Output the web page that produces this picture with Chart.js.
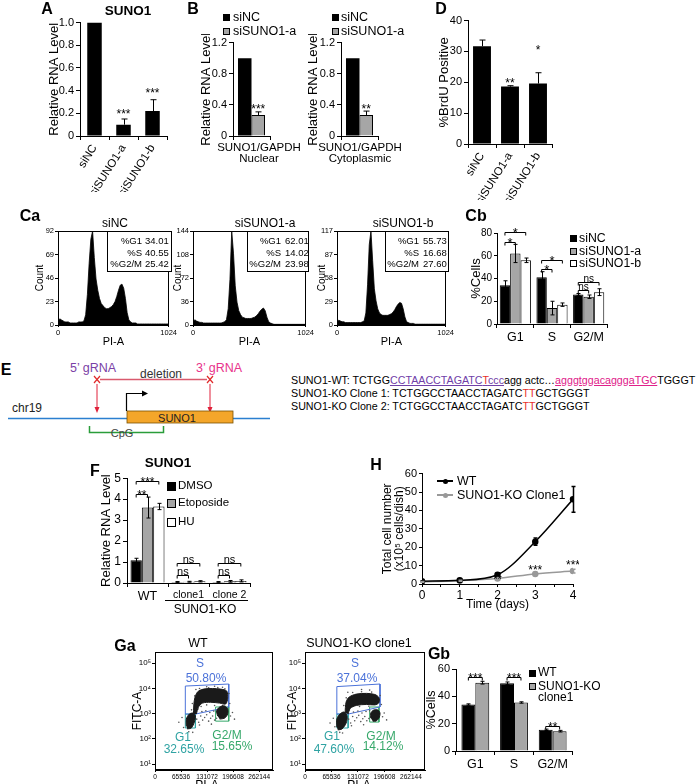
<!DOCTYPE html>
<html>
<head>
<meta charset="utf-8">
<script src="https://cdn.jsdelivr.net/npm/chart.js@4.4.0/dist/chart.umd.min.js"></script>
<style>
html, body { margin: 0; padding: 0; background: #fff; overflow: hidden; }
#fig { position: relative; width: 696px; height: 784px; overflow: hidden; font-family: 'Liberation Sans', Arial, sans-serif; color: #000; }
#fig canvas { position: absolute; }
.sq { display: inline-block; width: 5px; height: 5px; border: 1px solid #000; margin-right: 3px; vertical-align: 1px; }
.inset { position: absolute; border: 1px solid #000; background: #fff; box-sizing: border-box; }
.pu { color: #7040a8; text-decoration: underline; }
.mg { color: #e0208a; text-decoration: underline; }
.rd { color: #e8302a; }
</style>
</head>
<body>
<div id="fig">
<svg width="696" height="784" style="position:absolute;left:0;top:0" font-family="Liberation Sans, Arial, sans-serif">
  <text x="93" y="372" text-anchor="middle" font-size="12.5" fill="#7b3fa6">5’ gRNA</text>
  <text x="219" y="372" text-anchor="middle" font-size="12.5" fill="#e8338b">3’ gRNA</text>
  <line x1="100" y1="379.5" x2="207" y2="379.5" stroke="#d95a6e" stroke-width="1.5"/>
  <text x="161" y="378" text-anchor="middle" font-size="12" fill="#333">deletion</text>
  <path d="M94,376 L100,383 M100,376 L94,383" stroke="#e02a2a" stroke-width="1.2"/>
  <path d="M207,376 L213,383 M213,376 L207,383" stroke="#e02a2a" stroke-width="1.2"/>
  <line x1="97" y1="384" x2="97" y2="408" stroke="#e0213a" stroke-width="1"/>
  <path d="M94.5,407 L97,413 L99.5,407 z" fill="#e0213a"/>
  <line x1="210" y1="384" x2="210" y2="408" stroke="#e0213a" stroke-width="1"/>
  <path d="M207.5,407 L210,413 L212.5,407 z" fill="#e0213a"/>
  <text x="12" y="412" font-size="12" fill="#222">chr19</text>
  <line x1="8" y1="418.5" x2="270" y2="418.5" stroke="#2b7fd0" stroke-width="1.5"/>
  <rect x="127" y="411" width="106" height="12" fill="#f4a62a" stroke="#7a5200" stroke-width="0.8"/>
  <text x="177" y="421.5" text-anchor="middle" font-size="11" fill="#222">SUNO1</text>
  <path d="M126.5,411 L126.5,393.5 L143,393.5" stroke="#000" fill="none" stroke-width="1.2"/>
  <path d="M142,390.5 L148,393.5 L142,396.5 z" fill="#000"/>
  <path d="M89.5,426 L89.5,432.5 L163.5,432.5 L163.5,426" stroke="#2a9d3a" fill="none" stroke-width="1.5"/>
  <text x="122" y="437" text-anchor="middle" font-size="11" fill="#444">CpG</text>
</svg>
<div style="position:absolute;left:291px;top:374px;font-size:10.7px;line-height:13px;white-space:nowrap">
SUNO1-WT: TCTGG<span class="pu">CCTAACCTAGATC<span class="rd">T</span>ccc</span>agg actc…<span class="mg">agggtggacagggaTGC</span>TGGGT<br>
SUNO1-KO Clone 1: TCTGGCCTAACCTAGATC<span class="rd">TT</span>GCTGGGT<br>
SUNO1-KO Clone 2: TCTGGCCTAACCTAGATC<span class="rd">TT</span>GCTGGGT
</div>
</div>
<script>
// ---------- data ----------
const aCats = ['siNC', 'siSUNO1-a', 'siSUNO1-b'];
const aLevel = [1.0, 0.10, 0.22];
const aErr = [0, 0.05, 0.10];

const bSeries = ['siNC', 'siSUNO1-a'];
const bNuclear = [1.0, 0.27];
const bNuclearErr = [0, 0.04];
const bCyto = [1.0, 0.27];
const bCytoErr = [0, 0.05];

const dBrdU = [31.7, 18.6, 19.6];
const dErr = [2.0, 0.3, 3.5];

const histBins = [0,16,32,48,64,80,96,112,128,144,160,176,192,208,224,240,256,272,288,304,320,336,352,368,384,400,416,432,448,464,480,496,512,528,544,560,576,592,608,624,640,656,672,688,704,720,736,752,768,784,800,816,832,848,864,880,896,912,928,944,960,976,992,1008,1024];
const histNC = [3,6,5,4,3,3,3,2,2,2, 2,2,3,3,3,4,10,30,60,84, 92,66,45,34,26,21,19,17,16,16, 17,18,20,23,28,34,39,40,36,26, 12,5,3,2,2,2, 1,1,1,1,1,1,1,1,1,1,1,1,1,1,1,1,1,1,1];
const histA = [3,8,6,5,4,4,3,3,3,3, 3,3,3,3,3,3,3,4,5,8, 25,70,144,110,60,35,22,16,12,11, 10,10,10,10,11,12,14,17,21,24, 26,22,12,5,3,2, 1,1,1,1,1,1,1,1,1,1,1,1,1,1,1,1,1,1,1];
const histB = [3,6,5,4,4,3,3,3,3,3, 3,3,3,3,3,4,5,15,50,100, 117,80,45,30,20,15,13,12,12,12, 12,13,14,16,19,23,26,28,27,20, 10,4,3,2,2,2, 1,1,1,1,1,1,1,1,1,1,1,1,1,1,1,1,1,1,1];
const caStatNames = ['%G1', '%S', '%G2/M'];
const caStatsNC = ['34.01', '40.55', '25.42'];
const caStatsA = ['62.01', '14.02', '23.98'];
const caStatsB = ['55.73', '16.68', '27.60'];

const cbPhases = ['G1', 'S', 'G2/M'];
const cbNC = [34, 41, 26];
const cbA = [62, 14, 24];
const cbB = [56, 17, 28];
const cbNCErr = [4, 5, 0.8];
const cbAErr = [8, 6, 1.5];
const cbBErr = [2, 1.5, 3];

const fGroups = ['WT', 'clone1', 'clone 2'];
const fDMSO = [1.08, 0.05, 0.05];
const fEto = [3.6, 0.06, 0.08];
const fHU = [3.65, 0.08, 0.10];
const fDMSOErr = [0.1, 0.02, 0.02];
const fEtoErr = [0.5, 0.02, 0.04];
const fHUErr = [0.15, 0.03, 0.05];

const hDays = [0, 1, 2, 3, 4];
const hWT = [1.5, 2.0, 5.0, 23.0, 46.0];
const hWTErr = [0.3, 0.4, 1.0, 2.0, 7.0];
const hKO = [1.2, 1.8, 3.0, 5.5, 7.0];
const hKOErr = [0.2, 0.3, 0.5, 0.8, 1.0];

// flow plots: [PI-A, FITC-A]
const gaXTicks = [0, 65536, 131072, 196608, 262144];
const wtG1Cloud = [[78800,320],[78800,605],[86400,955],[96600,1045],[101700,795],[99100,460],[91500,268],[81300,245]];
const wtSCloud = [[96600,955],[99100,3430],[106800,7100],[122000,9300],[144900,9800],[165200,9300],[180500,7800],[183000,4100],[177900,2400],[162700,2600],[139800,2800],[119500,2600],[109300,1800],[104200,955]];
const wtG2Cloud = [[157600,795],[155100,1260],[162700,1820],[175400,2000],[183000,1510],[183000,955],[175400,660],[162700,605]];
const wtDots = [[60000,450],[68000,700],[72000,280],[105000,600],[110000,450],[115000,800],[120000,550],[125000,700],[130000,900],[135000,500],[140000,650],[145000,800],[150000,550],[155000,650],[118000,1200],[128000,1300],[138000,1100],[148000,1250],[158000,1400],[108000,1500],[190000,800],[195000,1100],[188000,2500],[100000,5000],[103000,9000],[150000,12000],[130000,11500],[170000,11000],[112000,350],[142000,380],[200000,600],[95000,180],[85000,190],[112000,9800],[135000,10600],[158000,10800],[176000,9600],[186000,6200],[130000,2200],[150000,2100],[170000,2100],[116000,1900],[94000,2500],[92000,1400]];
const wtSGate = [[76300,12300],[185600,14800],[185600,1820],[101700,955],[76300,955],[76300,12300]];
const wtG1Gate = [[76300,955],[101700,955],[101700,268],[76300,268],[76300,955]];
const wtG2Gate = [[152500,1820],[185600,1820],[185600,500],[152500,500],[152500,1820]];

const koG1Cloud = [[78800,295],[78800,605],[86400,955],[96600,1150],[104200,795],[101700,415],[91500,245],[81300,225]];
const koSCloud = [[99100,1045],[101700,2850],[109300,4500],[127100,5900],[152500,6300],[172900,5700],[183000,4300],[183000,2700],[172900,2200],[152500,2300],[127100,2100],[111800,1600],[106800,955]];
const koG2Cloud = [[162700,660],[162700,1045],[170300,1380],[180500,1380],[185600,1045],[183000,660],[175400,500],[167800,500]];
const koDots = [[62000,420],[70000,650],[74000,300],[108000,600],[113000,420],[118000,760],[123000,520],[128000,680],[133000,850],[138000,480],[143000,620],[148000,760],[153000,520],[158000,640],[120000,1150],[131000,1250],[141000,1050],[151000,1200],[160000,1300],[110000,1400],[192000,750],[196000,1050],[189000,2300],[102000,4200],[106000,7000],[140000,9000],[160000,8500],[115000,330],[145000,360],[202000,560],[93000,170],[86000,180],[118000,6800],[140000,7300],[165000,7100],[186000,5200],[135000,1900],[158000,1950],[96000,2100]];
const koSGate = [[78800,11700],[185600,14800],[185600,1820],[106800,955],[78800,955],[78800,11700]];
const koG1Gate = [[78800,955],[106800,955],[106800,268],[78800,268],[78800,955]];
const koG2Gate = [[160000,1820],[183000,1820],[183000,460],[160000,460],[160000,1820]];

const gbPhases = ['G1', 'S', 'G2/M'];
const gbWT = [34, 49.5, 15.5];
const gbKO = [50, 35.5, 14.5];
const gbWTErr = [0.5, 1.0, 0.5];
const gbKOErr = [1.0, 0.5, 0.6];

// ---------- helpers ----------
const GRAY = '#a6a6a6';
const FAM = "'Liberation Sans', Arial, sans-serif";
Chart.defaults.font.family = FAM;
Chart.defaults.color = '#000';
const fig = document.getElementById('fig');

function label(html, x, y, size, opt) {
    opt = opt || {};
    const d = document.createElement('div');
    d.innerHTML = html;
    const tx = opt.anchor === 'l' ? '0' : opt.anchor === 'r' ? '-100%' : '-50%';
    d.style.cssText = 'position:absolute;white-space:nowrap;line-height:1;left:' + x + 'px;top:' + y + 'px;font-size:' + size + 'px;' +
        'font-weight:' + (opt.bold ? 'bold' : 'normal') + ';color:' + (opt.color || '#000') + ';transform:translate(' + tx + ',-50%);';
    fig.appendChild(d);
}

function box(x, y, w, h, cls, style) {
    const d = document.createElement('div');
    d.className = cls || '';
    d.style.cssText += 'position:absolute;left:' + x + 'px;top:' + y + 'px;width:' + w + 'px;height:' + h + 'px;' + (style || '');
    fig.appendChild(d);
}

const annot = {
    id: 'annot',
    afterDatasetsDraw(chart, args, o) {
        o = o || {};
        const ctx = chart.ctx;
        const ys = chart.scales.y;
        const size = o.size || 12;
        ctx.save();
        (o.errors || []).forEach((errs, di) => {
            if (!errs) return;
            const meta = chart.getDatasetMeta(di);
            const raw = chart.data.datasets[di].data;
            ctx.strokeStyle = o.errColor ? o.errColor[di] : '#000';
            ctx.lineWidth = o.errWidth || 1;
            meta.data.forEach((el, i) => {
                const e = errs[i];
                if (!e) return;
                const v = typeof raw[i] === 'object' ? raw[i].y : raw[i];
                const x = Math.round(el.x) + 0.5;
                const y1 = ys.getPixelForValue(v + e);
                const y2 = ys.getPixelForValue(o.upOnly ? v : v - e);
                const c = o.cap || 3;
                ctx.beginPath();
                ctx.moveTo(x, y1); ctx.lineTo(x, y2);
                ctx.moveTo(x - c, y1); ctx.lineTo(x + c, y1);
                if (!o.upOnly) { ctx.moveTo(x - c, y2); ctx.lineTo(x + c, y2); }
                ctx.stroke();
            });
        });
        ctx.strokeStyle = '#000';
        ctx.fillStyle = '#000';
        ctx.lineWidth = 1;
        ctx.textAlign = 'center';
        const px = ref => chart.getDatasetMeta(ref[1]).data[ref[0]].x;
        (o.brackets || []).forEach(b => {
            const x1 = px(b.a), x2 = px(b.b);
            const y = Math.round(ys.getPixelForValue(b.y)) + 0.5;
            const d = b.drop || 3;
            ctx.beginPath();
            ctx.moveTo(x1, y + d); ctx.lineTo(x1, y); ctx.lineTo(x2, y); ctx.lineTo(x2, y + d);
            ctx.stroke();
            const s = b.size || size;
            ctx.font = s + 'px ' + FAM;
            ctx.textBaseline = 'alphabetic';
            const star = b.text.indexOf('*') >= 0;
            ctx.fillText(b.text, (x1 + x2) / 2, y - 1 + (star ? 0.42 * s : 0));
        });
        (o.marks || []).forEach(m => {
            const x = m.ref ? px(m.ref) : chart.scales.x.getPixelForValue(m.x);
            const s = m.size || size;
            ctx.font = s + 'px ' + FAM;
            ctx.textBaseline = 'middle';
            ctx.fillStyle = m.color || '#000';
            const star = m.text.indexOf('*') >= 0;
            ctx.fillText(m.text, x, ys.getPixelForValue(m.y) + (star ? 0.23 * s : 0));
        });
        ctx.restore();
    }
};

const frame = {
    id: 'frame',
    afterDraw(chart, args, o) {
        if (!o || !o.on) return;
        const a = chart.chartArea;
        const ctx = chart.ctx;
        ctx.save();
        ctx.strokeStyle = '#000';
        ctx.lineWidth = 1;
        ctx.strokeRect(Math.round(a.left) + 0.5, Math.round(a.top) + 0.5, Math.round(a.right - a.left) - 1, Math.round(a.bottom - a.top) - 1);
        ctx.restore();
    }
};

// area = [left, top, right, bottom] of the plot area on the page
// ext = [y axis width, top pad, right pad, x axis height]
function draw(area, ext, cfg) {
    const c = document.createElement('canvas');
    c.width = area[2] - area[0] + ext[0] + ext[2];
    c.height = area[3] - area[1] + ext[1] + ext[3];
    c.style.left = (area[0] - ext[0]) + 'px';
    c.style.top = (area[1] - ext[1]) + 'px';
    fig.appendChild(c);
    const o = cfg.options;
    o.responsive = false;
    o.animation = false;
    o.devicePixelRatio = 1;
    o.layout = {padding: {left: 0, top: ext[1], right: ext[2], bottom: 0}};
    o.scales.x.afterFit = s => { s.height = ext[3]; };
    o.scales.y.afterFit = s => { s.width = ext[0]; };
    o.plugins = Object.assign({legend: {display: false}, tooltip: {enabled: false}}, o.plugins || {});
    cfg.plugins = [annot, frame];
    return new Chart(c, cfg);
}

const axisGrid = (tl) => ({display: true, drawOnChartArea: false, drawTicks: true, tickLength: tl || 4, color: '#000', lineWidth: 1});

function barPanel(area, ext, cats, sets, o) {
    return draw(area, ext, {
        type: 'bar',
        data: {labels: cats, datasets: sets},
        options: {
            scales: {
                x: {
                    grid: Object.assign(axisGrid(4), {offset: true}),
                    border: {color: '#000'},
                    ticks: Object.assign({font: {size: o.xSize || 12}, padding: 2, autoSkip: false,
                        maxRotation: o.rot || 0, minRotation: o.rot || 0}, o.xTicks || {})
                },
                y: {
                    min: o.min, max: o.max,
                    grid: axisGrid(o.ytl || 4),
                    border: {color: '#000'},
                    ticks: {stepSize: o.step, font: {size: o.ySize || 11}, padding: 2,
                        callback: o.fmt || (v => String(+v.toFixed(2)))},
                    title: {display: !!o.title, text: o.title, font: {size: o.titleSize || 13}, padding: 0}
                }
            },
            plugins: {annot: o.annot || {}}
        }
    });
}

function histPanel(area, ext, counts, yMax, yStep) {
    return draw(area, ext, {
        type: 'line',
        data: {datasets: [{
            data: histBins.map((b, i) => ({x: b, y: counts[i]})),
            fill: 'origin', backgroundColor: '#000', borderColor: '#000', borderWidth: 0.8, pointRadius: 0, tension: 0
        }]},
        options: {
            scales: {
                x: {type: 'linear', min: 0, max: 1024, grid: axisGrid(2), border: {color: '#000'},
                    ticks: {stepSize: 1024, font: {size: 7.5}, padding: 1, callback: v => String(v)},
                    title: {display: true, text: 'PI-A', font: {size: 11}, padding: 0}},
                y: {min: 0, max: yMax, grid: axisGrid(3), border: {color: '#000'},
                    ticks: {stepSize: yStep, font: {size: 7.5}, padding: 1, callback: v => String(Math.floor(v + 1e-6))},
                    title: {display: true, text: 'Count', font: {size: 10}, padding: 0}}
            },
            plugins: {frame: {on: true}}
        }
    });
}

const pts = arr => arr.map(p => ({x: p[0], y: p[1]}));
const SUP = {10: '10¹', 100: '10²', 1000: '10³', 10000: '10⁴', 100000: '10⁵'};

function flowPanel(area, ext, clouds, dots, gates) {
    const sets = [];
    clouds.forEach(s => sets.push({data: pts(s), fill: 'shape', backgroundColor: '#1a1a1a', borderColor: '#1a1a1a',
        borderWidth: 1, pointRadius: 0, tension: 0.3}));
    sets.push({data: pts(dots), showLine: false, pointRadius: 0.8, pointBackgroundColor: '#555', pointBorderWidth: 0});
    gates.forEach(g => sets.push({data: pts(g[0]), fill: false, borderColor: g[1], borderWidth: 1, pointRadius: 0, tension: 0}));
    return draw(area, ext, {
        type: 'line',
        data: {datasets: sets},
        options: {
            scales: {
                x: {type: 'linear', min: 0, max: 297000, grid: axisGrid(2), border: {color: '#000'},
                    afterBuildTicks: s => { s.ticks = gaXTicks.map(v => ({value: v})); },
                    ticks: {font: {size: 6.5}, padding: 1, callback: v => String(v)}},
                y: {type: 'logarithmic', min: 5.8, max: 275000, grid: axisGrid(3), border: {color: '#000'},
                    afterBuildTicks: s => { s.ticks = [10, 100, 1000, 10000, 100000].map(v => ({value: v})); },
                    ticks: {font: {size: 8}, padding: 1, callback: v => SUP[v] || ''},
                    title: {display: true, text: 'FITC-A', font: {size: 12}, padding: 0}}
            },
            plugins: {frame: {on: true}}
        }
    });
}

// ---------- A ----------
barPanel([80, 22, 167, 136], [33, 8, 4, 56], aCats,
    [{data: aLevel, backgroundColor: '#000', barPercentage: 0.5, categoryPercentage: 1}],
    {min: 0, max: 1, step: 0.2, fmt: v => v === 0 ? '0' : v.toFixed(1), title: 'Relative RNA Level', rot: 58, xSize: 11.5,
     annot: {errors: [aErr], upOnly: true, cap: 3, marks: [{ref: [1, 0], y: 0.21, text: '***'}, {ref: [2, 0], y: 0.40, text: '***'}]}});
label('A', 47, 9, 16, {bold: true});
label('SUNO1', 128, 11, 13.5, {bold: true});

// ---------- B ----------
function bSets(vals) {
    return bSeries.map((s, i) => ({data: [vals[i]], backgroundColor: i === 0 ? '#000' : GRAY, borderColor: '#000',
        borderWidth: i === 0 ? 0 : 1, barPercentage: 1, categoryPercentage: 0.73}));
}
barPanel([233, 42, 270, 136], [34, 8, 3, 10], ['Nuclear'], bSets(bNuclear),
    {min: 0, max: 1.2, step: 0.2, title: 'Relative RNA Level', xTicks: {display: false},
     annot: {errors: [null, [bNuclearErr[1]]], upOnly: true, cap: 3, marks: [{ref: [0, 1], y: 0.37, text: '***'}]}});
barPanel([341, 42, 378, 136], [35, 8, 3, 10], ['Cytoplasmic'], bSets(bCyto),
    {min: 0, max: 1.2, step: 0.2, title: 'Relative RNA Level', xTicks: {display: false},
     annot: {errors: [null, [bCytoErr[1]]], upOnly: true, cap: 3, marks: [{ref: [0, 1], y: 0.37, text: '**'}]}});
label('B', 193, 9, 16, {bold: true});
[[223, 233], [332, 341]].forEach(p => {
    box(p[0], 14, 5, 5, 'sq', 'background:#000;');
    label(bSeries[0], p[1], 17, 12.5, {anchor: 'l'});
    box(p[0], 28, 5, 5, 'sq', 'background:' + GRAY + ';');
    label(bSeries[1], p[1], 31, 12.5, {anchor: 'l'});
});
label('SUNO1/GAPDH', 259, 148, 11.5);
label('Nuclear', 259, 159, 11.5);
label('SUNO1/GAPDH', 360, 148, 11.5);
label('Cytoplasmic', 360, 159, 11.5);

// ---------- D ----------
barPanel([468, 20, 552, 144], [31, 8, 4, 56], aCats,
    [{data: dBrdU, backgroundColor: '#000', barPercentage: 0.64, categoryPercentage: 1}],
    {min: 0, max: 40, step: 10, title: '%BrdU Positive', rot: 58, xSize: 11.5,
     annot: {errors: [dErr], upOnly: true, cap: 3, marks: [{ref: [1, 0], y: 20.6, text: '**'}, {ref: [2, 0], y: 31, text: '*'}]}});
label('D', 441, 9, 16, {bold: true});

// ---------- Ca ----------
histPanel([58, 231, 172, 325], [24, 8, 6, 24], histNC, 92, 23);
histPanel([193, 231, 309, 325], [21, 8, 6, 24], histA, 144, 36);
histPanel([337, 231, 449, 325], [21, 8, 6, 24], histB, 117, 29.25);
label('Ca', 30, 216, 16, {bold: true});
label('siNC', 115, 223, 12);
label('siSUNO1-a', 265, 223, 12);
label('siSUNO1-b', 403, 223, 12);
[[107, 172, 142, 145, caStatsNC], [247, 309, 281, 285, caStatsA], [385, 449, 419, 423, caStatsB]].forEach(p => {
    box(p[0], 231, p[1] - p[0], 41, 'inset');
    caStatNames.forEach((n, i) => {
        label(n, p[2], 241 + i * 11.5, 9.5, {anchor: 'r'});
        label(p[4][i], p[3], 241 + i * 11.5, 9.5, {anchor: 'l'});
    });
});

// ---------- Cb ----------
barPanel([497, 233, 607, 324], [28, 14, 4, 22], cbPhases,
    [[cbNC, '#000'], [cbA, GRAY], [cbB, '#fff']].map(p => ({data: p[0], backgroundColor: p[1], borderColor: '#000',
        borderWidth: 1, barPercentage: 1, categoryPercentage: 0.85})),
    {min: 0, max: 80, step: 10, ySize: 10, ytl: 3, title: '%Cells', xSize: 12.5,
     annot: {errors: [cbNCErr, cbAErr, cbBErr], cap: 2, size: 13, brackets: [
        {a: [0, 0], b: [0, 1], y: 72, text: '*'}, {a: [0, 0], b: [0, 2], y: 81, text: '*'},
        {a: [1, 0], b: [1, 1], y: 48, text: '*'}, {a: [1, 0], b: [1, 2], y: 56, text: '*'},
        {a: [2, 0], b: [2, 1], y: 30, text: 'ns', size: 10}, {a: [2, 0], b: [2, 2], y: 37, text: 'ns', size: 10}]}});
label('Cb', 476, 216, 16, {bold: true});
[['#000', 238], [GRAY, 251], ['#fff', 263]].forEach((p, i) => {
    box(570, p[1] - 3, 5, 5, 'sq', 'background:' + p[0] + ';');
    label(['siNC', 'siSUNO1-a', 'siSUNO1-b'][i], 579, p[1], 12.3, {anchor: 'l'});
});

// ---------- E ----------
label('E', 6, 370, 16, {bold: true});

// ---------- F ----------
barPanel([127, 477, 250, 583], [28, 8, 4, 20], fGroups,
    [[fDMSO, '#000'], [fEto, GRAY], [fHU, '#fff']].map(p => ({data: p[0], backgroundColor: p[1], borderColor: '#000',
        borderWidth: 1, barPercentage: 1, categoryPercentage: 0.83})),
    {min: 0, max: 5, step: 1, ySize: 12, title: 'Relative RNA Level',
     xTicks: {font: c => ({size: c.index === 0 ? 12.5 : 10.5})},
     annot: {errors: [fDMSOErr, fEtoErr, fHUErr], cap: 2, size: 12, brackets: [
        {a: [0, 0], b: [0, 2], y: 4.85, text: '***'}, {a: [0, 0], b: [0, 1], y: 4.25, text: '**'},
        {a: [1, 0], b: [1, 2], y: 0.94, text: 'ns', size: 11}, {a: [1, 0], b: [1, 1], y: 0.38, text: 'ns', size: 11},
        {a: [2, 0], b: [2, 2], y: 0.94, text: 'ns', size: 11}, {a: [2, 0], b: [2, 1], y: 0.38, text: 'ns', size: 11}]}});
label('F', 95, 471, 16, {bold: true});
label('SUNO1', 168, 463, 13.5, {bold: true});
[['#000', 486, 'DMSO'], [GRAY, 503, 'Etoposide'], ['#fff', 522, 'HU']].forEach(p => {
    box(167, p[1] - 4, 7, 7, 'sq', 'background:' + p[0] + ';');
    label(p[2], 178, p[1], 11.5, {anchor: 'l'});
});
box(165, 600, 83, 1, '', 'background:#000;');
label('SUNO1-KO', 205, 609, 12);

// ---------- H ----------
draw([422, 473, 573, 584], [40, 8, 6, 28], {
    type: 'line',
    data: {datasets: [
        {data: hDays.map((d, i) => ({x: d, y: hWT[i]})), borderColor: '#000', backgroundColor: '#000', pointRadius: 2.5,
         borderWidth: 1.5, cubicInterpolationMode: 'monotone'},
        {data: hDays.map((d, i) => ({x: d, y: hKO[i]})), borderColor: '#999', backgroundColor: '#999', pointRadius: 2.5,
         borderWidth: 1.5, cubicInterpolationMode: 'monotone'}
    ]},
    options: {
        scales: {
            x: {type: 'linear', min: 0, max: 4, grid: axisGrid(3), border: {color: '#000'},
                ticks: {stepSize: 0.5, font: {size: 12}, padding: 1, callback: v => Number.isInteger(v) ? String(v) : ''},
                title: {display: true, text: 'Time (days)', font: {size: 12}, padding: 0}},
            y: {min: 0, max: 60, grid: axisGrid(3), border: {color: '#000'},
                ticks: {stepSize: 10, font: {size: 11}, padding: 2},
                title: {display: true, text: ['Total cell number', '(x10⁵ cells/dish)'], font: {size: 12, lineHeight: 1}, padding: 0}}
        },
        plugins: {annot: {errors: [hWTErr, hKOErr], errColor: ['#000', '#999'], errWidth: 1.5, cap: 2, size: 12,
            marks: [{x: 2, y: 3.8, text: '**', size: 11}, {x: 3, y: 8.6, text: '***'}, {x: 4, y: 11.3, text: '***'}]}}
    }
});
label('H', 376, 465, 16, {bold: true});
[['#000', 481, 'WT'], ['#999', 495, 'SUNO1-KO Clone1']].forEach(p => {
    box(437, p[1] - 0.75, 16, 1.5, '', 'background:' + p[0] + ';');
    box(442.5, p[1] - 2.5, 5, 5, '', 'background:' + p[0] + ';border-radius:50%;');
    label(p[2], 457, p[1], 12.5, {anchor: 'l'});
});

// ---------- Ga ----------
const SBLUE = '#4b72d9', G1TEAL = '#2fa3a3', G2GREEN = '#36a86a';
flowPanel([155, 652, 273, 770], [25, 8, 6, 22], [wtSCloud, wtG1Cloud, wtG2Cloud], wtDots,
    [[wtSGate, SBLUE], [wtG1Gate, G1TEAL], [wtG2Gate, G2GREEN]]);
flowPanel([305, 652, 425, 770], [20, 8, 6, 22], [koSCloud, koG1Cloud, koG2Cloud], koDots,
    [[koSGate, SBLUE], [koG1Gate, G1TEAL], [koG2Gate, G2GREEN]]);
label('Ga', 125, 646, 16, {bold: true});
label('WT', 198, 643, 12.5);
label('SUNO1-KO clone1', 359, 643, 12.5);
label('S', 200, 663, 12, {color: SBLUE});
label('50.80%', 206, 678, 12, {color: SBLUE});
label('G1', 183, 737, 12, {color: G1TEAL});
label('32.65%', 184, 749, 12, {color: G1TEAL});
label('G2/M', 227, 735, 12, {color: G2GREEN});
label('15.65%', 232, 746, 12, {color: G2GREEN});
label('S', 355, 663, 12, {color: SBLUE});
label('37.04%', 357, 678, 12, {color: SBLUE});
label('G1', 332, 736, 12, {color: G1TEAL});
label('47.60%', 334, 749, 12, {color: G1TEAL});
label('G2/M', 381, 736, 12, {color: G2GREEN});
label('14.12%', 383, 746, 12, {color: G2GREEN});
label('PI-A', 207, 785, 12);
label('PI-A', 359, 785, 12);

// ---------- Gb ----------
barPanel([456, 669, 572, 751], [32, 14, 4, 20], gbPhases,
    [[gbWT, '#000'], [gbKO, GRAY]].map(p => ({data: p[0], backgroundColor: p[1], borderColor: '#000',
        borderWidth: 1, barPercentage: 1, categoryPercentage: 0.72})),
    {min: 0, max: 60, step: 10, ySize: 11, title: '%Cells', titleSize: 12.5, xSize: 12.5,
     annot: {errors: [gbWTErr, gbKOErr], cap: 2, size: 12, brackets: [
        {a: [0, 0], b: [0, 1], y: 54, text: '***'}, {a: [1, 0], b: [1, 1], y: 54, text: '***'},
        {a: [2, 0], b: [2, 1], y: 18.3, text: '**'}]}});
label('Gb', 439, 654, 16, {bold: true});
box(529, 670, 5, 5, 'sq', 'background:#000;');
label('WT', 538, 672, 12, {anchor: 'l'});
box(529, 683, 5, 5, 'sq', 'background:' + GRAY + ';');
label('SUNO1-KO', 538, 686, 12, {anchor: 'l'});
label('clone1', 538, 697, 12, {anchor: 'l'});
</script>
</body>
</html>
